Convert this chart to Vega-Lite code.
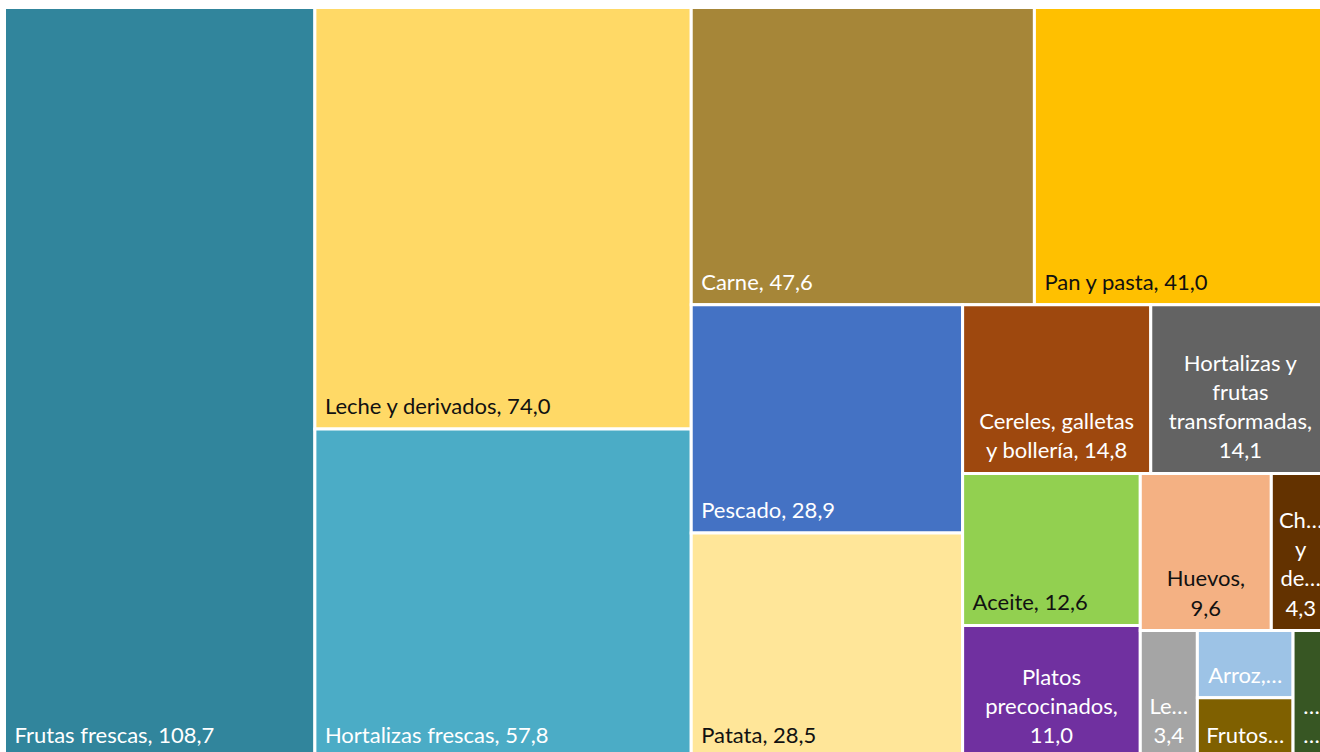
{
  "$schema": "https://vega.github.io/schema/vega-lite/v6.json",
  "width": 1320,
  "height": 752,
  "autosize": "none",
  "padding": 0,
  "background": "white",
  "config": {"view": {"stroke": null}},
  "data": {
    "values": [
      {"name": "Frutas frescas", "value": 108.7, "strip": 1, "label": "Frutas frescas, 108,7"},
      {"name": "Leche y derivados", "value": 74.0, "strip": 2, "label": "Leche y derivados, 74,0"},
      {"name": "Hortalizas frescas", "value": 57.8, "strip": 2, "label": "Hortalizas frescas, 57,8"},
      {"name": "Carne", "value": 47.6, "strip": 3, "label": "Carne, 47,6"},
      {"name": "Pan y pasta", "value": 41.0, "strip": 3, "label": "Pan y pasta, 41,0"},
      {"name": "Pescado", "value": 28.9, "strip": 4, "label": "Pescado, 28,9"},
      {"name": "Patata", "value": 28.5, "strip": 4, "label": "Patata, 28,5"},
      {"name": "Cereles, galletas y bollería", "value": 14.8, "strip": 5, "label": "Cereles, galletas\ny bollería, 14,8"},
      {"name": "Hortalizas y frutas transformadas", "value": 14.1, "strip": 5, "label": "Hortalizas y\nfrutas\ntransformadas,\n14,1"},
      {"name": "Aceite", "value": 12.6, "strip": 6, "label": "Aceite, 12,6"},
      {"name": "Platos precocinados", "value": 11.0, "strip": 6, "label": "Platos\nprecocinados,\n11,0"},
      {"name": "Huevos", "value": 9.6, "strip": 7, "label": "Huevos,\n9,6"},
      {"name": "Chocolate y derivados", "value": 4.3, "strip": 7, "label": "Ch…\ny\nde…\n4,3"},
      {"name": "Legumbres", "value": 3.4, "strip": 8, "label": "Le…\n3,4"},
      {"name": "Arroz", "value": 3.0, "strip": 9, "label": "Arroz,…"},
      {"name": "Frutos secos", "value": 2.7, "strip": 9, "label": "Frutos…"},
      {"name": "Otros", "value": 2.2, "strip": 10, "label": "…\n…"}
    ]
  },
  "transform": [
    {"joinaggregate": [{"op": "sum", "field": "value", "as": "S"}, {"op": "count", "as": "n"}], "groupby": ["strip"]},
    {"window": [{"op": "sum", "field": "value", "as": "R"}], "sort": [{"field": "strip", "order": "descending"}], "frame": [null, 0]},
    {"calculate": "datum.S / datum.R", "as": "r"},
    {"calculate": "(datum.strip == 3 || datum.strip == 5 || datum.strip == 7) ? 1 : 0", "as": "isH"},
    {"calculate": "(datum.isH == 0 && datum.r < 0.999999) ? log(1 - datum.r) / datum.n : 0", "as": "lv"},
    {"calculate": "(datum.isH == 1 && datum.r < 0.999999) ? log(1 - datum.r) / datum.n : 0", "as": "lh"},
    {"window": [{"op": "sum", "field": "lv", "as": "cLv"}, {"op": "sum", "field": "lh", "as": "cLh"}], "sort": [{"field": "strip", "order": "ascending"}], "frame": [null, 0]},
    {"calculate": "exp(datum.cLv - datum.lv * datum.n)", "as": "W"},
    {"calculate": "exp(datum.cLh - datum.lh * datum.n)", "as": "H"},
    {"stack": "value", "groupby": ["strip"], "sort": [{"field": "value", "order": "descending"}], "as": ["s0", "s1"]},
    {"calculate": "datum.isH == 0 ? 1 - datum.W : 1 - datum.W + datum.W * datum.s0 / datum.S", "as": "x0"},
    {"calculate": "datum.isH == 0 ? 1 - datum.W + datum.W * datum.r : 1 - datum.W + datum.W * datum.s1 / datum.S", "as": "x1"},
    {"calculate": "datum.isH == 1 ? 1 - datum.H : 1 - datum.H + datum.H * datum.s0 / datum.S", "as": "y0"},
    {"calculate": "datum.isH == 1 ? 1 - datum.H + datum.H * datum.r : 1 - datum.H + datum.H * datum.s1 / datum.S", "as": "y1"},
    {"calculate": "(datum.x0 + datum.x1) / 2", "as": "xc"},
    {"calculate": "length(split(datum.label, '\\n'))", "as": "nLines"},
    {"calculate": "datum.y1 - (datum.nLines - 1) * 29.3 / 750.7", "as": "yt"}
  ],
  "layer": [
    {
      "mark": {"type": "rect", "stroke": "white", "strokeWidth": 3, "clip": true},
      "encoding": {
        "x": {"field": "x0", "type": "quantitative", "scale": {"domain": [-0.003395, 0.99246], "nice": false, "zero": false}, "axis": null},
        "x2": {"field": "x1"},
        "y": {"field": "y0", "type": "quantitative", "scale": {"domain": [-0.00999, 0.99174], "nice": false, "zero": false, "reverse": true}, "axis": null},
        "y2": {"field": "y1"},
        "color": {
          "field": "name",
          "type": "nominal",
          "legend": null,
          "scale": {
            "domain": ["Frutas frescas", "Leche y derivados", "Hortalizas frescas", "Carne", "Pan y pasta", "Pescado", "Patata", "Cereles, galletas y bollería", "Hortalizas y frutas transformadas", "Aceite", "Platos precocinados", "Huevos", "Chocolate y derivados", "Legumbres", "Arroz", "Frutos secos", "Otros"],
            "range": ["#31859C", "#FFD966", "#4BACC6", "#A68638", "#FFC000", "#4472C4", "#FFE699", "#9E480E", "#636363", "#92D050", "#7030A0", "#F4B183", "#633200", "#A5A5A5", "#9DC3E6", "#7F6000", "#375623"]
          }
        }
      }
    },
    {
      "transform": [{"filter": "indexof(datum.label, '…') < 0 && indexof(datum.label, '\\n') < 0"}],
      "mark": {"type": "text", "align": "left", "baseline": "bottom", "dx": 10, "dy": -10, "font": "Lato", "fontSize": 22, "clip": true},
      "encoding": {
        "x": {"field": "x0", "type": "quantitative", "scale": {"domain": [-0.003395, 0.99246], "nice": false, "zero": false}, "axis": null},
        "y": {"field": "y1", "type": "quantitative", "scale": {"domain": [-0.00999, 0.99174], "nice": false, "zero": false, "reverse": true}, "axis": null},
        "text": {"field": "label"},
        "color": {"condition": {"test": "indexof(['Leche y derivados', 'Pan y pasta', 'Patata', 'Aceite', 'Huevos'], datum.name) >= 0", "value": "#111111"}, "value": "#ffffff"}
      }
    },
    {
      "transform": [{"filter": "!(indexof(datum.label, '…') < 0 && indexof(datum.label, '\\n') < 0)"}],
      "mark": {"type": "text", "align": "center", "baseline": "bottom", "dy": -10, "font": "Lato", "fontSize": 22, "lineBreak": "\n", "lineHeight": 29.3, "clip": true},
      "encoding": {
        "x": {"field": "xc", "type": "quantitative", "scale": {"domain": [-0.003395, 0.99246], "nice": false, "zero": false}, "axis": null},
        "y": {"field": "yt", "type": "quantitative", "scale": {"domain": [-0.00999, 0.99174], "nice": false, "zero": false, "reverse": true}, "axis": null},
        "text": {"field": "label"},
        "color": {"condition": {"test": "indexof(['Leche y derivados', 'Pan y pasta', 'Patata', 'Aceite', 'Huevos'], datum.name) >= 0", "value": "#111111"}, "value": "#ffffff"}
      }
    }
  ]
}
